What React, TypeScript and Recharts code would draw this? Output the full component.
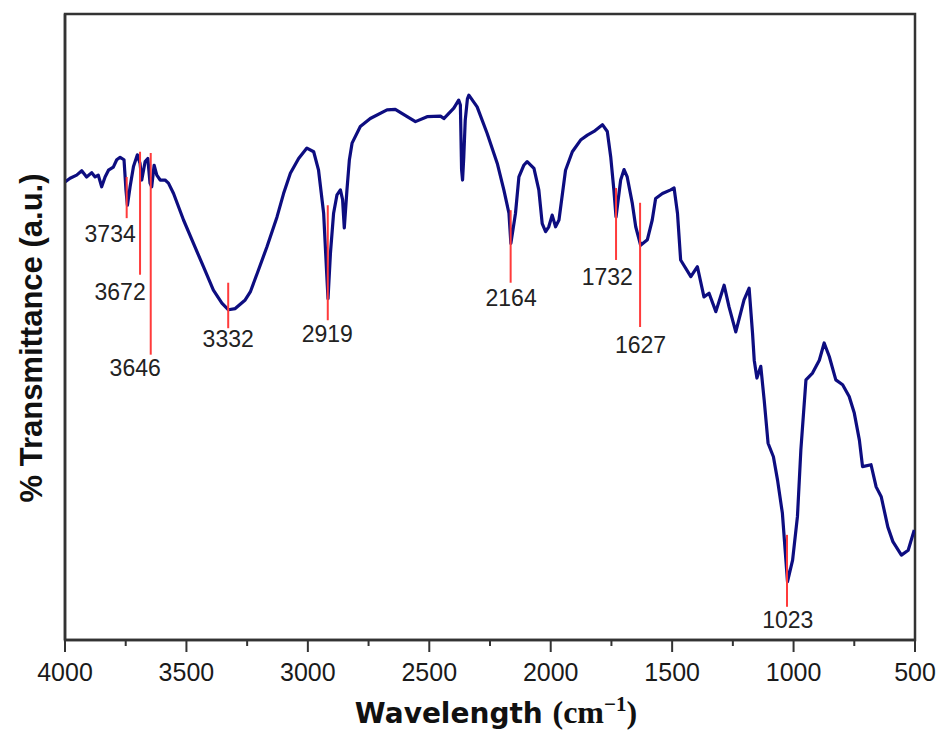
import { LineChart, Line, XAxis, YAxis, ReferenceLine, ReferenceDot, ReferenceArea } from "recharts"

// FTIR spectrum (transmittance in arbitrary units)
const wavenumbers = [
  4000, 3979, 3952, 3931, 3911, 3890, 3876, 3863, 3849, 3835,
  3821, 3801, 3787, 3773, 3757, 3749, 3743, 3732, 3718, 3702,
  3691, 3684, 3670, 3659, 3650, 3643, 3633, 3622, 3608, 3588,
  3574, 3553, 3512, 3471, 3430, 3389, 3354, 3327, 3299, 3258,
  3237, 3203, 3168, 3127, 3100, 3072, 3038, 3004, 2976, 2956,
  2935, 2921, 2917, 2907, 2894, 2880, 2866, 2857, 2850, 2839,
  2829, 2818, 2784, 2743, 2674, 2640, 2591, 2557, 2509, 2454,
  2440, 2399, 2379, 2372, 2367, 2363, 2358, 2352, 2343, 2337,
  2303, 2262, 2220, 2193, 2172, 2164, 2145, 2131, 2111, 2097,
  2069, 2049, 2035, 2021, 2008, 1994, 1980, 1966, 1939, 1911,
  1877, 1849, 1822, 1787, 1767, 1753, 1740, 1731, 1712, 1698,
  1685, 1664, 1650, 1630, 1602, 1582, 1568, 1540, 1506, 1492,
  1478, 1465, 1423, 1396, 1369, 1348, 1320, 1286, 1266, 1238,
  1204, 1183, 1169, 1162, 1151, 1135, 1121, 1105, 1083, 1066,
  1046, 1025, 1004, 984, 970, 949, 922, 894, 874, 853,
  826, 798, 771, 750, 729, 716, 681, 660, 639, 612,
  591, 556, 528, 503,
]
const transmittance = [
  74.0, 74.6, 75.1, 75.8, 74.8, 75.5, 74.8, 75.1, 73.2, 74.8,
  75.9, 76.4, 77.6, 78.0, 77.6, 72.7, 70.2, 73.2, 76.5, 78.4,
  77.0, 74.3, 77.3, 77.8, 73.8, 73.2, 76.7, 75.1, 74.3, 74.3,
  73.8, 72.1, 67.8, 64.0, 60.2, 56.4, 54.3, 53.2, 53.4, 54.8,
  56.1, 59.7, 63.5, 68.3, 72.1, 75.4, 77.8, 79.5, 78.9, 75.9,
  68.9, 58.0, 55.0, 62.4, 68.9, 71.9, 72.7, 71.1, 66.5, 72.7,
  77.6, 80.3, 83.0, 84.3, 85.7, 85.8, 84.6, 83.8, 84.6, 84.7,
  84.3, 86.0, 87.3, 86.5, 76.0, 74.3, 78.0, 84.0, 87.5, 88.1,
  86.2, 81.9, 77.0, 72.7, 68.9, 64.0, 68.9, 74.8, 76.7, 77.3,
  76.2, 72.7, 67.2, 65.9, 66.7, 68.6, 66.7, 67.8, 75.9, 78.9,
  80.8, 81.6, 82.2, 83.3, 82.2, 78.1, 72.7, 68.3, 74.3, 76.0,
  74.8, 70.5, 66.7, 63.7, 64.6, 67.8, 71.3, 72.1, 72.7, 73.0,
  68.9, 61.3, 58.6, 60.2, 55.3, 55.9, 52.9, 57.2, 53.7, 49.6,
  54.8, 56.7, 49.4, 45.0, 42.1, 44.0, 38.5, 31.5, 29.3, 25.5,
  20.1, 9.0, 12.5, 19.6, 30.4, 41.8, 42.9, 45.0, 47.8, 45.6,
  41.8, 41.0, 39.1, 36.4, 32.0, 27.7, 28.0, 24.4, 22.8, 17.9,
  15.5, 13.3, 14.1, 17.4,
]

// peak markers: label text, where the red tick sits, its span and where the label sits
const peakLabels = ["3734", "3672", "3646", "3332", "2919", "2164", "1732", "1627", "1023"]
const peakWn = [3746, 3691, 3647, 3328, 2918, 2165, 1731, 1632, 1027]
const peakTop = [74.8, 78.9, 78.7, 57.6, 70.2, 69.4, 73.0, 70.6, 16.6]
const peakBottom = [68.1, 58.9, 45.9, 50.2, 51.5, 57.6, 61.3, 50.4, 4.9]
const labelWn = [3814, 3773, 3711, 3328, 2920, 2163, 1767, 1630, 1024]
const labelT = [65.6, 56.1, 43.7, 48.5, 49.3, 55.1, 58.5, 47.5, 2.8]

const xTicks = [4000, 3750, 3500, 3250, 3000, 2750, 2500, 2250, 2000, 1750, 1500, 1250, 1000, 750, 500]
const yDomain = [-0.5, 101.3]

const data = wavenumbers.map((w, i) => ({ w, t: transmittance[i] }))

const AXIS = "#333"
const SANS = "'Liberation Sans', Arial, sans-serif"

function WnTick(props: any) {
  const { x, y, payload } = props
  const major = payload.value % 500 === 0
  return (
    <g>
      <line x1={x} x2={x} y1={y} y2={y + (major ? 12 : 6)} stroke={AXIS} strokeWidth={2} />
      {major && (
        <text x={x} y={y + 41} textAnchor="middle" fontSize={25} fill="#1a1a1a" fontFamily={SANS}>
          {payload.value}
        </text>
      )}
    </g>
  )
}

const renderXTitle = () => (
  <text x={496} y={723} textAnchor="middle" fontWeight="bold" fill="#111">
    <tspan fontFamily="'DejaVu Sans', Verdana, sans-serif" fontSize={28}>Wavelength </tspan>
    <tspan fontFamily="'Liberation Serif', serif" fontSize={32}>(cm</tspan>
    <tspan fontFamily="'Liberation Serif', serif" fontSize={21} dy={-12}>−1</tspan>
    <tspan fontFamily="'Liberation Serif', serif" fontSize={32} dy={12}>)</tspan>
  </text>
)

const renderYTitle = () => (
  <text
    x={42}
    y={338}
    transform="rotate(-90 42 338)"
    textAnchor="middle"
    fontWeight="bold"
    fontSize={31}
    fontFamily={SANS}
    fill="#111"
  >
    % Transmittance (a.u.)
  </text>
)

export default function App() {
  return (
    <div style={{ position: "absolute", left: 0, top: 0, background: "#fff" }}>
      <LineChart width={941} height={733} data={data} margin={{ top: 14, right: 26, bottom: 0, left: 0 }}>
        <XAxis
          dataKey="w"
          type="number"
          domain={[500, 4000]}
          reversed
          allowDataOverflow
          ticks={xTicks}
          interval={0}
          tick={<WnTick />}
          tickLine={false}
          tickSize={0}
          tickMargin={0}
          height={93}
          axisLine={{ stroke: AXIS, strokeWidth: 2.5 }}
          label={{ content: renderXTitle }}
        />
        <YAxis
          type="number"
          domain={yDomain}
          allowDataOverflow
          tick={false}
          tickLine={false}
          width={65}
          axisLine={{ stroke: AXIS, strokeWidth: 2.5 }}
          label={{ content: renderYTitle }}
        />
        <ReferenceArea
          x1={4000}
          x2={500}
          y1={yDomain[0]}
          y2={yDomain[1]}
          fill="none"
          fillOpacity={0}
          stroke={AXIS}
          strokeWidth={2.5}
        />
        <Line
          dataKey="t"
          type="linear"
          stroke="#0d0d80"
          strokeWidth={3.2}
          strokeLinejoin="round"
          dot={false}
          isAnimationActive={false}
        />
        {peakWn.map((w, i) => (
          <ReferenceLine
            key={"pl" + i}
            segment={[{ x: w, y: peakTop[i] }, { x: w, y: peakBottom[i] }]}
            stroke="#ff3b3b"
            strokeWidth={2}
          />
        ))}
        {peakLabels.map((lab, i) => (
          <ReferenceDot
            key={"pt" + i}
            x={labelWn[i]}
            y={labelT[i]}
            r={1}
            shape={(p: any) => (
              <text
                x={p.cx}
                y={p.cy}
                textAnchor="middle"
                dominantBaseline="central"
                fontSize={23}
                fontFamily={SANS}
                fill="#222"
              >
                {lab}
              </text>
            )}
          />
        ))}
      </LineChart>
    </div>
  )
}
